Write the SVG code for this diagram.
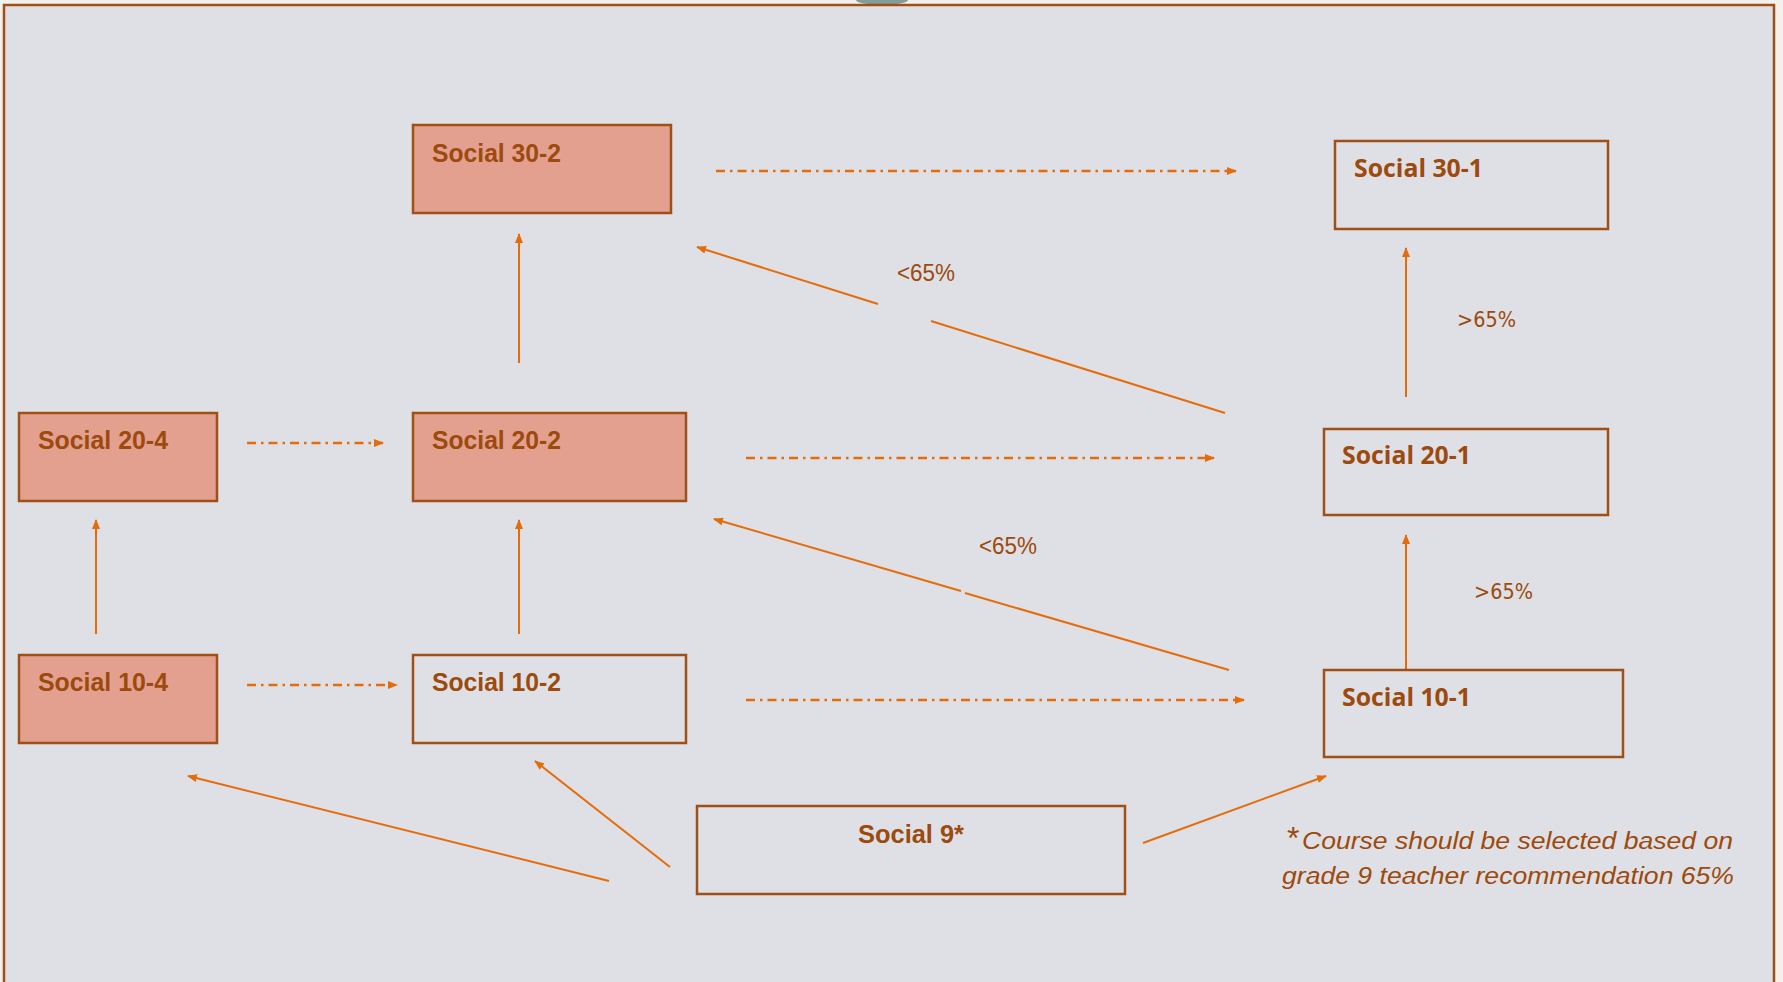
<svg xmlns="http://www.w3.org/2000/svg" width="1783" height="982" viewBox="0 0 1783 982">
<style>
.box{stroke:#A04F16;stroke-width:2.5}
.fillS{fill:#E3A08F}
.fillN{fill:none}
.t2{font-family:"Liberation Sans",Arial,sans-serif;font-weight:bold;font-size:25px;fill:#9C4A0E}
.t1{font-family:"Open Sans","DejaVu Sans",sans-serif;font-weight:bold;font-size:25.5px;fill:#9C4A0E}
.lblL{font-family:"Liberation Sans",Arial,sans-serif;font-size:23px;fill:#9C4A0E}
.lblG{font-family:"DejaVu Sans",sans-serif;font-size:21.5px;fill:#9C4A0E}
.note{font-family:"Liberation Sans",Arial,sans-serif;font-style:italic;font-size:24.5px;fill:#9C4A0E}
.ln{stroke:#E46C0A;stroke-width:2;fill:none}
.dash{stroke:#E46C0A;stroke-width:2.5;fill:none;stroke-dasharray:9 5 2.5 5}
</style>
<defs>
<marker id="ah" viewBox="0 0 10 8" refX="9" refY="4" markerWidth="10" markerHeight="8" markerUnits="userSpaceOnUse" orient="auto">
<path d="M0,0 L10,4 L0,8 Z" fill="#E46C0A"/>
</marker>
</defs>
<rect x="0" y="0" width="1783" height="982" fill="#F4F1EC"/>
<ellipse cx="882" cy="0" rx="26" ry="5" fill="#819D99"/>
<rect x="4" y="5" width="1770" height="1000" fill="#DFE0E5" stroke="#A04F16" stroke-width="2.5"/>

<g id="connectors">
<line class="ln" x1="519" y1="363" x2="519" y2="234" marker-end="url(#ah)"/>
<line class="dash" x1="716" y1="171" x2="1236" y2="171" marker-end="url(#ah)"/>
<line class="ln" x1="1225" y1="413" x2="931" y2="321"/>
<line class="ln" x1="878" y1="304" x2="697" y2="247" marker-end="url(#ah)"/>
<line class="ln" x1="1406" y1="397" x2="1406" y2="248" marker-end="url(#ah)"/>
<line class="dash" x1="247" y1="443" x2="383" y2="443" marker-end="url(#ah)"/>
<line class="dash" x1="746" y1="458" x2="1214" y2="458" marker-end="url(#ah)"/>
<line class="ln" x1="96" y1="634" x2="96" y2="520" marker-end="url(#ah)"/>
<line class="ln" x1="519" y1="634" x2="519" y2="520" marker-end="url(#ah)"/>
<line class="ln" x1="1229" y1="670" x2="965" y2="593"/>
<line class="ln" x1="961" y1="591" x2="714" y2="519" marker-end="url(#ah)"/>
<line class="ln" x1="1406" y1="669" x2="1406" y2="535" marker-end="url(#ah)"/>
<line class="dash" x1="247" y1="685" x2="397" y2="685" marker-end="url(#ah)"/>
<line class="dash" x1="746" y1="700" x2="1244" y2="700" marker-end="url(#ah)"/>
<line class="ln" x1="609" y1="881" x2="188" y2="776" marker-end="url(#ah)"/>
<line class="ln" x1="670" y1="867" x2="535" y2="761" marker-end="url(#ah)"/>
<line class="ln" x1="1143" y1="843" x2="1326" y2="776" marker-end="url(#ah)"/>
<text class="lblL" x="897" y="281" textLength="58" lengthAdjust="spacingAndGlyphs">&lt;65%</text>
<text class="lblL" x="979" y="554" textLength="58" lengthAdjust="spacingAndGlyphs">&lt;65%</text>
<text class="lblG" x="1457" y="327" textLength="59" lengthAdjust="spacingAndGlyphs">&gt;65%</text>
<text class="lblG" x="1474" y="599" textLength="59" lengthAdjust="spacingAndGlyphs">&gt;65%</text>
</g>

<g id="social-30-2">
<rect class="box fillS" x="413" y="125" width="258" height="88"/>
<text class="t2" x="432" y="162" textLength="129" lengthAdjust="spacingAndGlyphs">Social 30-2</text>
</g>
<g id="social-30-1">
<rect class="box fillN" x="1335" y="141" width="273" height="88"/>
<text class="t1" x="1354" y="177" textLength="129" lengthAdjust="spacingAndGlyphs">Social 30-1</text>
</g>
<g id="social-20-4">
<rect class="box fillS" x="19" y="413" width="198" height="88"/>
<text class="t2" x="38" y="449" textLength="130" lengthAdjust="spacingAndGlyphs">Social 20-4</text>
</g>
<g id="social-20-2">
<rect class="box fillS" x="413" y="413" width="273" height="88"/>
<text class="t2" x="432" y="449" textLength="129" lengthAdjust="spacingAndGlyphs">Social 20-2</text>
</g>
<g id="social-20-1">
<rect class="box fillN" x="1324" y="429" width="284" height="86"/>
<text class="t1" x="1342" y="464" textLength="129" lengthAdjust="spacingAndGlyphs">Social 20-1</text>
</g>
<g id="social-10-4">
<rect class="box fillS" x="19" y="655" width="198" height="88"/>
<text class="t2" x="38" y="691" textLength="130" lengthAdjust="spacingAndGlyphs">Social 10-4</text>
</g>
<g id="social-10-2">
<rect class="box fillN" x="413" y="655" width="273" height="88"/>
<text class="t2" x="432" y="691" textLength="129" lengthAdjust="spacingAndGlyphs">Social 10-2</text>
</g>
<g id="social-10-1">
<rect class="box fillN" x="1324" y="670" width="299" height="87"/>
<text class="t1" x="1342" y="706" textLength="129" lengthAdjust="spacingAndGlyphs">Social 10-1</text>
</g>
<g id="social-9">
<rect class="box fillN" x="697" y="806" width="428" height="88"/>
<text class="t2" x="858" y="843" textLength="106" lengthAdjust="spacingAndGlyphs">Social 9*</text>
</g>
<g id="footnote">
<text class="note" x="1287" y="849"><tspan font-size="32" font-style="normal">*</tspan><tspan x="1302" textLength="431" lengthAdjust="spacingAndGlyphs">Course should be selected based on</tspan></text>
<text class="note" x="1282" y="884" textLength="452" lengthAdjust="spacingAndGlyphs">grade 9 teacher recommendation 65%</text>
</g>
</svg>
